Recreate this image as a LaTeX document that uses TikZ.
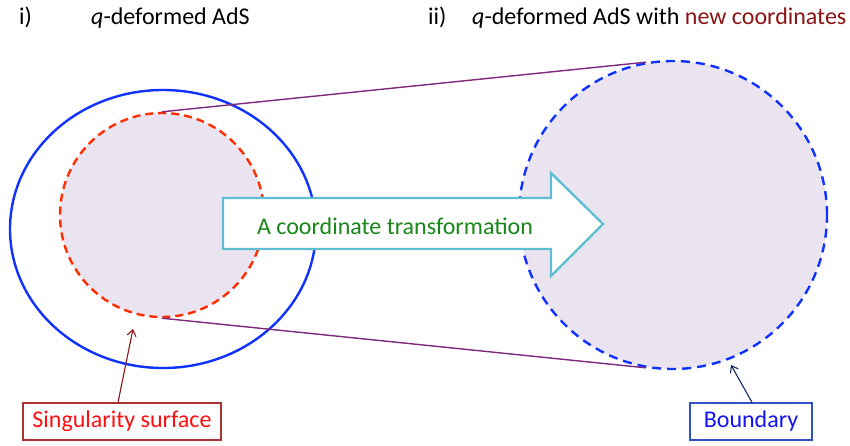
\documentclass[tikz,border=0pt]{standalone}
\usepackage{fontspec}
\setmainfont{Carlito}
\usetikzlibrary{shapes.geometric,arrows.meta}
\definecolor{ringblue}{RGB}{16,50,255}
\definecolor{singred}{RGB}{255,45,0}
\definecolor{lav}{RGB}{234,228,240}
\definecolor{plum}{RGB}{125,40,125}
\definecolor{arrowcyan}{RGB}{95,190,210}
\definecolor{txtgreen}{RGB}{25,135,25}
\definecolor{darkred}{RGB}{140,20,20}
\definecolor{boxred}{RGB}{170,50,50}
\definecolor{boxblue}{RGB}{50,80,200}
\definecolor{navy}{RGB}{20,40,100}
\definecolor{lblred}{RGB}{255,15,15}
\definecolor{lblblue}{RGB}{20,20,240}
\tikzset{
  hdr/.style={anchor=base west, inner sep=0pt, font=\fontsize{24}{28}\selectfont},
  lbl/.style={draw, line width=1.3pt, inner sep=0pt, font=\fontsize{24}{28}\selectfont},
  pointer/.style={line width=1.1pt, -{Straight Barb[length=6pt,width=9pt]}},
}
\begin{document}
\begin{tikzpicture}[x=1pt,y=-1pt]
\useasboundingbox (0,0) rectangle (850,445);
% headers
\node[hdr] (h1) at (19,24) {i)};
\node[hdr] (h2) at (91,24) {\textit{q}-deformed AdS};
\node[hdr] (h3) at (428,24) {ii)};
\node[hdr] (h4) at (472,24) {\textit{q}-deformed AdS with \textcolor{darkred}{new coordinates}};
% circles
\node[ellipse, draw=ringblue, line width=2.4pt, minimum width=306, minimum height=278, inner sep=0pt] (outer) at (163,229) {};
\node[circle, draw=singred, fill=lav, line width=2.4pt, dash pattern=on 8pt off 5pt, minimum size=204, inner sep=0pt] (sing) at (162,215) {};
\node[circle, draw=ringblue, fill=lav, line width=2.4pt, dash pattern=on 9pt off 6pt, minimum size=308, inner sep=0pt] (bdry) at (673,215) {};
% connecting lines
\draw[plum, line width=1.4pt] (sing.north) -- (bdry.100);
\draw[plum, line width=1.4pt] (sing.south) -- (bdry.260);
% block arrow
\draw[arrowcyan, fill=white, line width=2.4pt, line join=miter]
  (223,198) -- (551,198) -- (551,173) -- (603,224) -- (551,276) -- (551,249) -- (223,249) -- cycle;
\node[font=\fontsize{24}{28}\selectfont, text=txtgreen, anchor=base] (tr) at (395,234) {A coordinate transformation};
% labels
\node[lbl, draw=boxred, text=lblred, minimum width=198, minimum height=37] (sl) at (122,421.5) {Singularity surface};
\node[lbl, draw=boxblue, text=lblblue, minimum width=122, minimum height=37] (bl) at (751,421.5) {Boundary};
\coordinate (st) at (133,329);
\coordinate (bt) at (731,365);
\draw[pointer, darkred] (sl.north -| 118,0) -- (st);
\draw[pointer, navy] (bl.north -| 752,0) -- (bt);
\end{tikzpicture}
\end{document}
